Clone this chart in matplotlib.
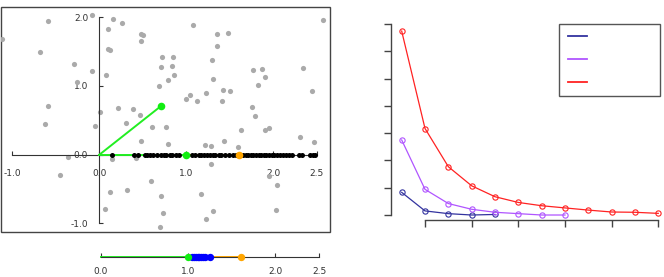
import numpy as np
import matplotlib.pyplot as plt
from matplotlib.patches import Rectangle

# grey cloud of points (left panel)
gx = [-1.113, -0.588, -0.684, -0.293, -0.255, -0.090, -0.588, -0.623, -0.358, -0.454,
      -0.083, 0.006, -0.055, 0.094, 0.159, 0.259, 0.101, 0.117, 0.075, 0.213,
      0.305, 0.381, 0.462, 0.473, 0.496, 0.473, 0.477, 0.420, 0.151, 0.121,
      0.312, 0.067, 0.596, 0.603, 0.688, 0.707, 0.722, 0.761, 0.791, 0.791,
      0.841, 0.837, 0.853, 0.703, 0.734, 0.695, 0.994, 1.040, 1.078, 1.124,
      1.224, 1.163, 1.293, 1.308, 1.351, 1.351, 1.420, 1.412, 1.500, 1.481,
      1.431, 1.216, 1.285, 1.278, 1.301, 1.224, 1.623, 1.592, 1.756, 1.768,
      1.791, 1.818, 1.868, 1.902, 1.902, 1.952, 1.952, 2.037, 2.032, 2.305,
      2.336, 2.446, 2.469, 2.572]
gy = [1.68, 1.95, 1.495, 1.325, 1.058, 1.223, 0.713, 0.451, -0.038, -0.295,
      2.04, 0.617, 0.418, 1.83, 1.975, 1.917, 1.539, 1.524, 1.156, 0.684,
      0.466, 0.665, 0.573, 1.761, 1.742, 1.659, 0.204, -0.053, -0.058, -0.538,
      -0.509, -0.790, -0.383, 0.403, 1.0, 1.281, 1.427, 0.403, 0.151, 1.087,
      1.427, 1.291, 1.160, -0.596, -0.853, -1.052, 0.811, 0.869, 1.892, 0.782,
      0.903, -0.577, 1.378, 1.097, 1.761, 1.582, 0.937, 0.782, 0.922, 1.767,
      0.204, 0.137, 0.122, -0.140, -0.819, -0.931, 0.355, 0.117, 0.699, 1.229,
      0.568, 1.015, 1.252, 1.136, 0.355, 0.393, -0.306, -0.446, -0.805, 0.258,
      1.258, 0.932, 0.185, 1.961]

# black points on the real axis
bx = [0.15, 0.40, 0.44, 0.52, 0.55, 0.58, 0.62, 0.66, 0.71, 0.74, 0.77, 0.81, 0.84,
      0.88, 0.91, 1.06, 1.10, 1.14, 1.17, 1.20, 1.24, 1.27, 1.30, 1.33, 1.37, 1.40,
      1.44, 1.49, 1.53, 1.57, 1.65, 1.68, 1.71, 1.74, 1.77, 1.80, 1.83, 1.86, 1.89,
      1.92, 1.95, 1.98, 2.01, 2.04, 2.07, 2.11, 2.15, 2.18, 2.21, 2.29, 2.33, 2.42,
      2.45, 2.48]

# green vector, orange marker
unit = 1.0
angle = np.pi / 4
orange_x = 1.61

# blue points on the lower number line
blue_x = [1.05, 1.07, 1.09, 1.11, 1.13, 1.15, 1.17, 1.19, 1.25]

xt_main = [-1.0, 0.0, 1.0, 2.0, 2.5]
yt_main = [-1.0, 0.0, 1.0, 2.0]
xt_line = [0.0, 1.0, 2.0, 2.5]

# right panel series
n = np.arange(1, 13)
red = [6.74, 3.17, 1.77, 1.07, 0.67, 0.46, 0.34, 0.26, 0.18, 0.11, 0.10, 0.06]
purple = [2.75, 0.94, 0.42, 0.21, 0.10, 0.05, 0.0, 0.0]
navy = [0.83, 0.15, 0.05, 0.0, 0.02]

fig = plt.figure(figsize=(6.64, 2.77), dpi=100)
plt.rcParams['font.size'] = 6.5

# ---- left panel
ax1 = fig.add_axes([1/664, 45.3/277, 329/664, 224.4/277])
ax1.set_xlim(-1.13, 2.65)
ax1.set_ylim(-1.12, 2.145)
for s in ['top', 'right']:
    ax1.spines[s].set_visible(False)
ax1.spines['left'].set_position(('data', 0))
ax1.spines['bottom'].set_position(('data', 0))
ax1.spines['left'].set_bounds(-1, 2)
ax1.spines['bottom'].set_bounds(-1, 2.5)
for s in ['left', 'bottom']:
    ax1.spines[s].set_color('#333333')
    ax1.spines[s].set_linewidth(0.8)
ax1.set_xticks(xt_main)
ax1.set_yticks(yt_main)
ax1.set_xticklabels(['%.1f' % v for v in xt_main])
ax1.set_yticklabels(['%.1f' % v for v in yt_main])
ax1.tick_params(axis='x', direction='in', length=3, pad=10, colors='#333333')
ax1.tick_params(axis='y', direction='in', length=3, pad=8, colors='#333333')
ax1.add_patch(Rectangle((0, 0), 1, 1, transform=ax1.transAxes, fill=False,
                        edgecolor='#444444', linewidth=1.0, clip_on=False))

ax1.scatter(gx, gy, s=14, color='#aaaaaa', linewidths=0, zorder=2)
ax1.plot([0, unit], [0, 0], color='#22ee22', linewidth=1.4, zorder=3)
ax1.plot([unit, orange_x], [0, 0], color='#ffa500', linewidth=1.4, zorder=3)
ax1.plot([0, unit*np.cos(angle)], [0, unit*np.sin(angle)], color='#22ee22', linewidth=1.4, zorder=3)
ax1.scatter(bx, np.zeros(len(bx)), s=13, color='black', linewidths=0, zorder=4)
ax1.scatter([unit*np.cos(angle), unit], [unit*np.sin(angle), 0], s=30, color='#11ee11', linewidths=0, zorder=5)
ax1.scatter([orange_x], [0], s=30, color='#ffa500', linewidths=0, zorder=5)

# ---- lower number line
ax2 = fig.add_axes([90/664, 0/277, 240/664, 40/277])
ax2.set_xlim(-0.1225, 2.626)
ax2.set_ylim(-1, 1)
for s in ['top', 'right', 'left']:
    ax2.spines[s].set_visible(False)
ax2.spines['bottom'].set_position(('data', 0))
ax2.spines['bottom'].set_bounds(0, 2.5)
ax2.spines['bottom'].set_color('#333333')
ax2.spines['bottom'].set_linewidth(0.8)
ax2.set_yticks([])
ax2.set_xticks(xt_line)
ax2.set_xticklabels(['%.1f' % v for v in xt_line])
ax2.tick_params(axis='x', direction='in', length=3, pad=7.5, colors='#333333')
ax2.patch.set_visible(False)
ax2.plot([0, unit], [0, 0], color='#22ee22', linewidth=1.4)
ax2.plot([blue_x[-1], orange_x], [0, 0], color='#ffa500', linewidth=1.4)
ax2.plot([unit, blue_x[-1]], [0, 0], color='blue', linewidth=1.4)
ax2.scatter(blue_x, np.zeros(len(blue_x)), s=28, color='blue', linewidths=0, zorder=4)
ax2.scatter([unit], [0], s=28, color='#11ee11', linewidths=0, zorder=5)
ax2.scatter([orange_x], [0], s=28, color='#ffa500', linewidths=0, zorder=5)

# ---- right panel
ax3 = fig.add_axes([390.7/664, 57/277, 271.3/664, 200/277])
ax3.set_xlim(0.529, 12.16)
ax3.set_ylim(-0.183, 7.146)
for s in ['top', 'right']:
    ax3.spines[s].set_visible(False)
ax3.spines['left'].set_bounds(0, 7)
ax3.spines['bottom'].set_bounds(2, 12)
for s in ['left', 'bottom']:
    ax3.spines[s].set_color('#444444')
    ax3.spines[s].set_linewidth(1.0)
ax3.set_xticks([2, 4, 6, 8, 10, 12])
ax3.set_yticks(range(8))
ax3.tick_params(axis='both', direction='out', length=5, width=1.0, colors='#444444',
                labelleft=False, labelbottom=False)
h1, = ax3.plot(n[:len(navy)], navy, color='#33339f', linewidth=0.9, marker='o',
               markersize=3.8, markerfacecolor='none', markeredgewidth=0.8)
h2, = ax3.plot(n[:len(purple)], purple, color='#b055ff', linewidth=0.9, marker='o',
               markersize=3.8, markerfacecolor='none', markeredgewidth=0.8)
h3, = ax3.plot(n, red, color='#ff2222', linewidth=0.9, marker='o',
               markersize=3.8, markerfacecolor='none', markeredgewidth=0.8)
leg = ax3.legend([h1, h2, h3], ['', '', ''], loc='upper left',
                 bbox_to_anchor=(0.6215, 0.98, 0.371, 0.0), mode='expand',
                 borderaxespad=0, handlelength=1.75, fontsize=8, labelspacing=1.15,
                 borderpad=0.75, fancybox=False, framealpha=1, edgecolor='#555555')
for h in leg.legend_handles:
    h.set_marker('')
    h.set_linewidth(1.3)
leg.get_frame().set_linewidth(1.0)

fig.savefig('out.png', dpi=100)
